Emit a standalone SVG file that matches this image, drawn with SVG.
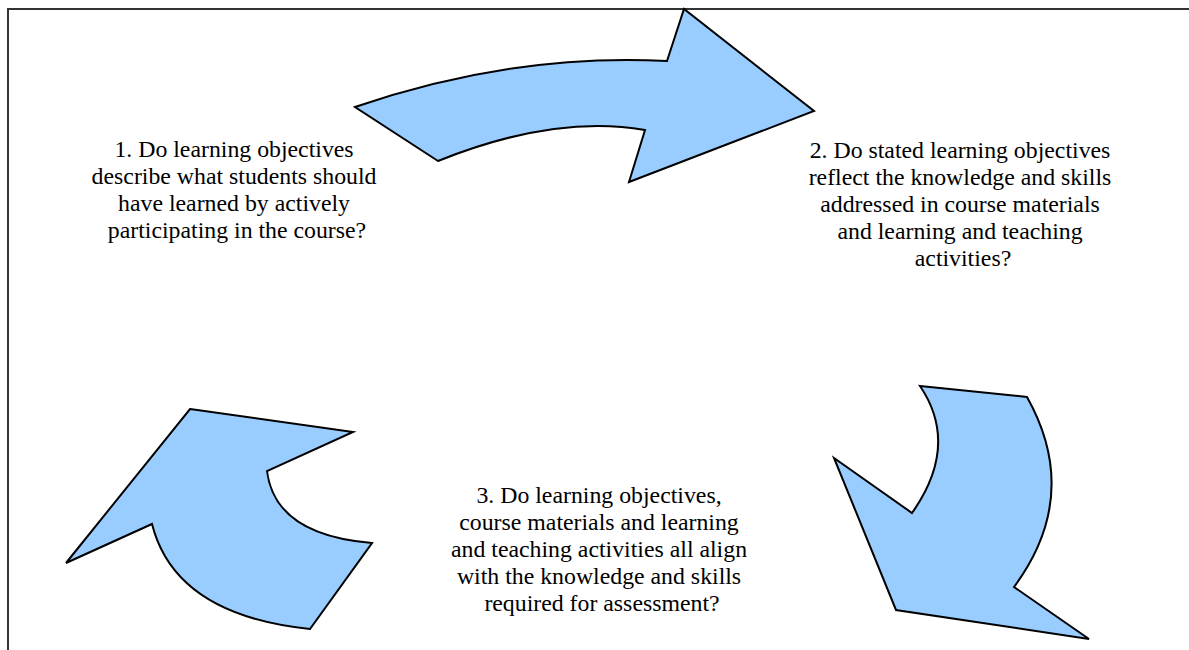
<svg xmlns="http://www.w3.org/2000/svg" width="1189" height="650" viewBox="0 0 1189 650">
  <style>
    .frame { fill: none; stroke: #333333; stroke-width: 2; }
    .arrow { fill: #99CCFF; stroke: #000000; stroke-width: 2; stroke-linejoin: miter; }
    .label { font-family: "Liberation Serif", "Times New Roman", serif; font-size: 23.8px; fill: #000000; text-anchor: middle; }
  </style>
  <rect x="0" y="0" width="1189" height="650" fill="#ffffff"/>
  <!-- page frame: top and left rules only -->
  <path class="frame" d="M8 650 V9 H1189"/>

  <!-- curved block arrows linking the three steps -->
  <g id="connectors">
    <path id="arrow-1-2" class="arrow" d="M355 107 Q512 53 667 61 L684 9 L814 111 L629 182 L645 130 Q555 114 438 161 Z"/>
    <path id="arrow-2-3" class="arrow" d="M920 386 L1027 397 Q1082 495 1014 587 L1089 639 L896 610 L834 458 L912 513 Q960 445 920 386 Z"/>
    <path id="arrow-3-1" class="arrow" d="M190 409 L353 432 L267 471 Q275 535 372 543 L310 629 Q175 615 152 524 L66 563 Z"/>
  </g>

  <g id="step-1">
    <text class="label" x="237" y="157">
      <tspan x="237" y="157">1. Do learning objectives</tspan>
      <tspan x="237" y="184">describe what students should</tspan>
      <tspan x="237" y="211">have learned by actively</tspan>
      <tspan x="237" y="238">participating in the course?</tspan>
    </text>
  </g>

  <g id="step-2">
    <text class="label" x="963" y="158">
      <tspan x="963" y="158">2. Do stated learning objectives</tspan>
      <tspan x="963" y="185">reflect the knowledge and skills</tspan>
      <tspan x="963" y="212">addressed in course materials</tspan>
      <tspan x="963" y="239">and learning and teaching</tspan>
      <tspan x="963" y="266">activities?</tspan>
    </text>
  </g>

  <g id="step-3">
    <text class="label" x="602" y="503">
      <tspan x="602" y="503">3. Do learning objectives,</tspan>
      <tspan x="602" y="530">course materials and learning</tspan>
      <tspan x="602" y="557">and teaching activities all align</tspan>
      <tspan x="602" y="584">with the knowledge and skills</tspan>
      <tspan x="602" y="611">required for assessment?</tspan>
    </text>
  </g>
</svg>
